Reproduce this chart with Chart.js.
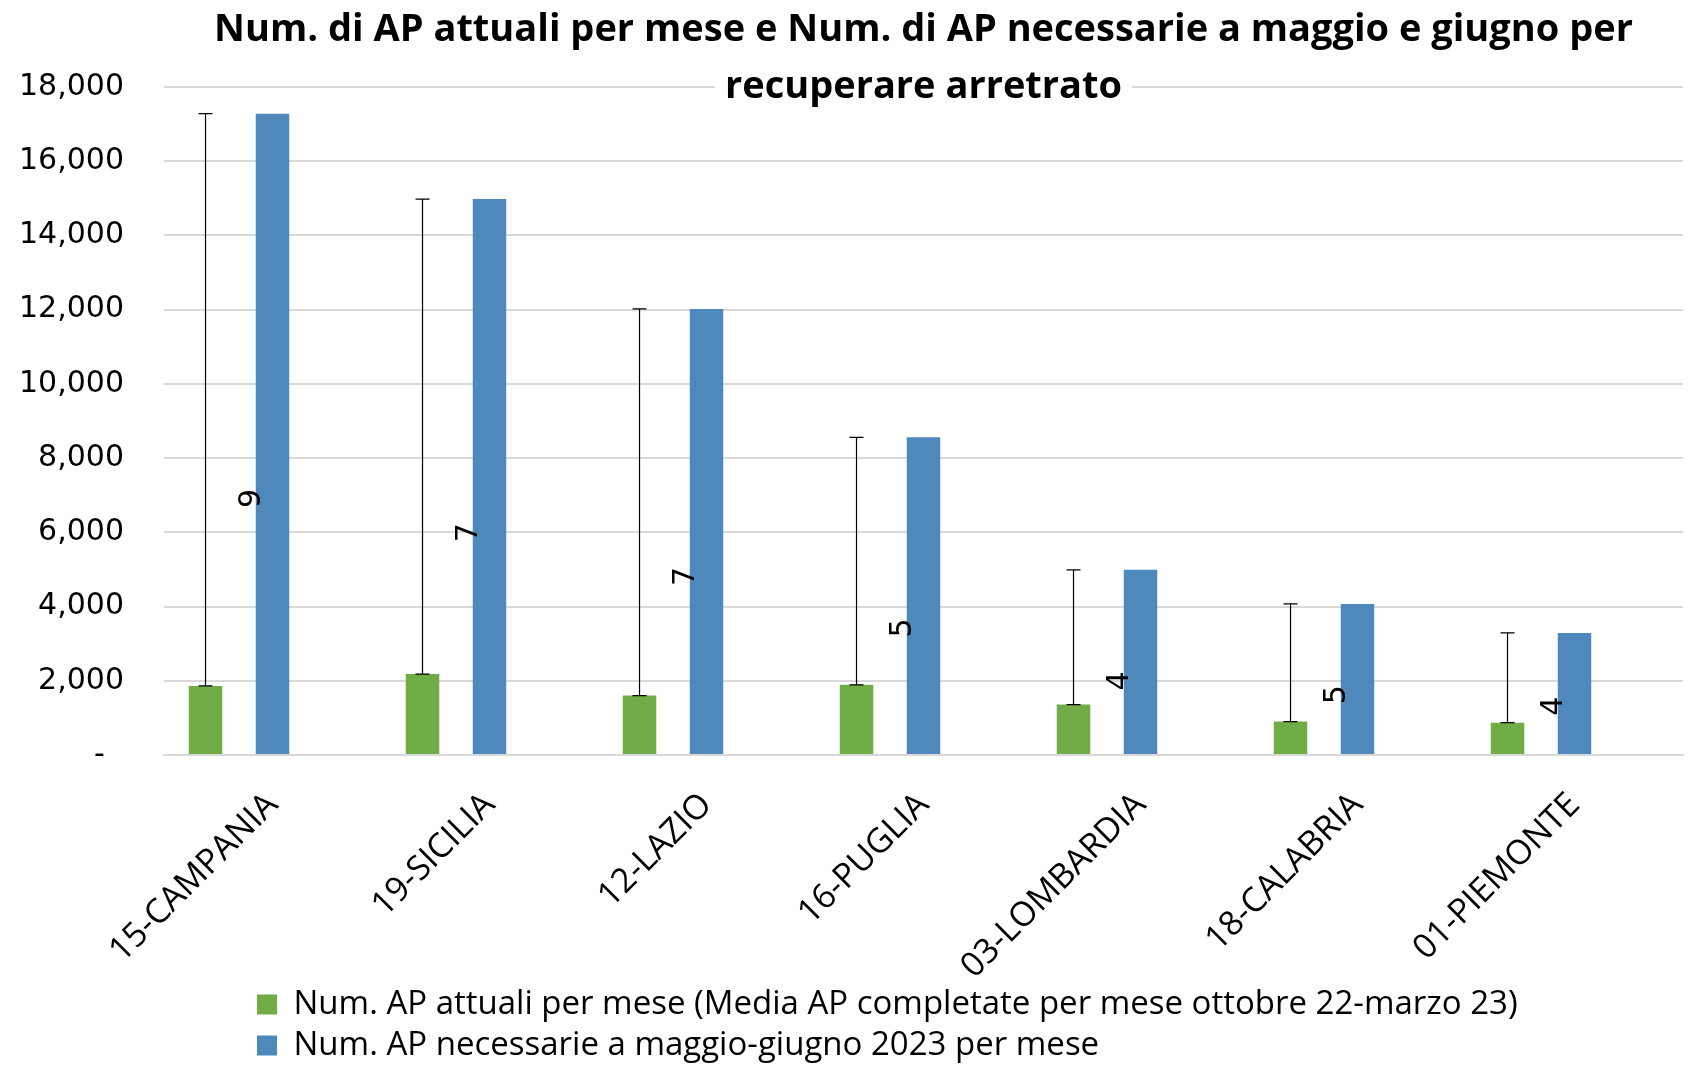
<!DOCTYPE html>
<html lang="it">
<head>
<meta charset="utf-8">
<title>Num. di AP attuali per mese</title>
<script src="https://cdn.jsdelivr.net/npm/chart.js@4.4.1/dist/chart.umd.min.js"></script>
<style>
  html, body { margin: 0; padding: 0; background: #fff; }
  #wrap { width: 1690px; height: 1069px; }
</style>
</head>
<body>
<div id="wrap"><canvas id="apChart"></canvas></div>
<script>
// Dati
const regions = ['15-CAMPANIA', '19-SICILIA', '12-LAZIO', '16-PUGLIA', '03-LOMBARDIA', '18-CALABRIA', '01-PIEMONTE'];
const apAttuali = [1860, 2180, 1600, 1890, 1360, 900, 870];
const apNecessarie = [17280, 14980, 12020, 8560, 4990, 4070, 3290];
const rapporto = [9, 7, 7, 5, 4, 5, 4];
const yTicks = [0, 2000, 4000, 6000, 8000, 10000, 12000, 14000, 16000, 18000];

const titleLines = [
    'Num. di AP attuali per mese e Num. di AP necessarie a maggio e giugno per',
    'recuperare arretrato'
];
const seriesNames = [
    'Num. AP attuali per mese (Media AP completate per mese ottobre 22-marzo 23)',
    'Num. AP necessarie a maggio-giugno 2023 per mese'
];

const GREEN = '#70ad47';
const BLUE = '#4f88bb';

// linea verticale dalla barra verde fino al valore necessario
const errorBars = {
    id: 'errorBars',
    afterDatasetsDraw(chart) {
        const { ctx } = chart;
        const y = chart.scales.y;
        ctx.save();
        ctx.strokeStyle = '#000';
        ctx.lineWidth = 1.2;
        chart.getDatasetMeta(0).data.forEach((bar, i) => {
            const top = y.getPixelForValue(apNecessarie[i]);
            ctx.beginPath();
            ctx.moveTo(bar.x, bar.y);
            ctx.lineTo(bar.x, top);
            ctx.moveTo(bar.x - 7, top);
            ctx.lineTo(bar.x + 7, top);
            ctx.moveTo(bar.x - 7, bar.y);
            ctx.lineTo(bar.x + 7, bar.y);
            ctx.stroke();
        });
        ctx.restore();
    }
};

// etichette ruotate con il rapporto necessarie / attuali
const ratioLabels = {
    id: 'ratioLabels',
    afterDatasetsDraw(chart) {
        const { ctx } = chart;
        const y = chart.scales.y;
        ctx.save();
        ctx.fillStyle = '#000';
        ctx.font = '30px "DejaVu Sans"';
        ctx.textAlign = 'center';
        ctx.textBaseline = 'middle';
        chart.getDatasetMeta(1).data.forEach((bar, i) => {
            const px = bar.x - bar.width / 2 - 4;
            const py = y.getPixelForValue(apNecessarie[i] * 0.4);
            ctx.save();
            ctx.translate(px, py);
            ctx.rotate(-Math.PI / 2);
            ctx.fillText(String(chart.data.datasets[2].data[i]), 0, 0);
            ctx.restore();
        });
        ctx.restore();
    }
};

// titolo sopra l'area del grafico, con sfondo bianco sulla seconda riga
const overlayTitle = {
    id: 'overlayTitle',
    afterDraw(chart) {
        const { ctx, chartArea } = chart;
        const cx = (chartArea.left + chartArea.right) / 2;
        ctx.save();
        ctx.font = 'bold 38px "Open Sans"';
        ctx.textAlign = 'center';
        ctx.textBaseline = 'middle';
        const w2 = ctx.measureText(titleLines[1]).width;
        ctx.fillStyle = '#fff';
        ctx.fillRect(cx - w2 / 2 - 10, 64, w2 + 20, 46);
        ctx.fillStyle = '#000';
        ctx.fillText(titleLines[0], cx, 30);
        ctx.fillText(titleLines[1], cx, 87);
        ctx.restore();
    }
};

// legenda allineata a sinistra come nell'originale
const legendShift = {
    id: 'legendShift',
    beforeDraw(chart) {
        chart.legend.left = 249;
    }
};

const ctx = document.getElementById('apChart').getContext('2d');
new Chart(ctx, {
    type: 'bar',
    data: {
        labels: regions,
        datasets: [
            { label: seriesNames[0], data: apAttuali, backgroundColor: GREEN },
            { label: seriesNames[1], data: apNecessarie, backgroundColor: BLUE },
            { label: 'rapporto', data: rapporto, backgroundColor: 'rgba(0,0,0,0)' }
        ]
    },
    options: {
        responsive: true,
        maintainAspectRatio: false,
        animation: false,
        layout: { padding: { left: 18, right: 7, top: 87, bottom: -3 } },
        datasets: {
            bar: { categoryPercentage: 0.926, barPercentage: 0.5 }
        },
        plugins: {
            title: { display: false },
            tooltip: { enabled: false },
            legend: {
                position: 'bottom',
                align: 'start',
                labels: {
                    filter: item => item.datasetIndex < 2,
                    boxWidth: 20,
                    boxHeight: 20,
                    padding: 8,
                    color: '#000',
                    font: { family: '"Open Sans"', size: 33 }
                }
            }
        },
        scales: {
            x: {
                afterFit: scale => { scale.height = 225; },
                grid: { display: false },
                border: { color: '#d9d9d9', width: 2 },
                ticks: {
                    minRotation: 45,
                    maxRotation: 45,
                    color: '#000',
                    padding: 22,
                    font: { family: '"Open Sans"', size: 34 }
                }
            },
            y: {
                min: 0,
                max: 18000,
                afterBuildTicks: scale => { scale.ticks = yTicks.map(v => ({ value: v })); },
                afterFit: scale => { scale.width = 146; },
                grid: { color: '#d9d9d9', lineWidth: 2, drawTicks: false },
                border: { display: false },
                ticks: {
                    padding: 40,
                    color: '#000',
                    font: { family: '"DejaVu Sans"', size: 30 },
                    callback: v => v === 0 ? '-  ' : v.toLocaleString('en-US')
                }
            }
        }
    },
    plugins: [errorBars, ratioLabels, overlayTitle, legendShift]
});
</script>
</body>
</html>
